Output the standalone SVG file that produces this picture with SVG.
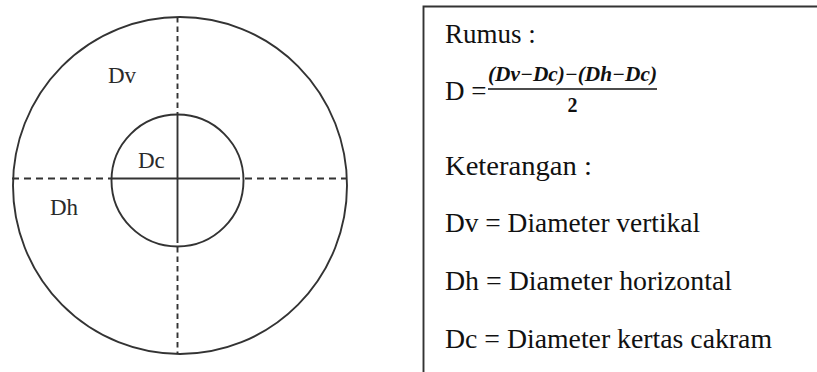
<svg xmlns="http://www.w3.org/2000/svg" width="817" height="372" viewBox="0 0 817 372">
<style>
.ln{fill:none;stroke:#333;stroke-width:1.9}
.dh{stroke-dasharray:7 5}
.dv{stroke-dasharray:5.5 4}
.lbl{font-family:"Liberation Serif","Times New Roman",serif;font-size:23px;fill:#2a2a2a}
.txt{font-family:"Liberation Serif","DejaVu Serif",serif;font-size:27px;fill:#111}
.math{font-family:"Liberation Serif","DejaVu Serif",serif;font-size:20px;font-weight:bold;fill:#111}
</style>
<rect width="817" height="372" fill="#fff"/>
<g id="disc">
<ellipse class="ln" cx="180" cy="185.5" rx="167" ry="168.5"/>
<circle class="ln" cx="177.5" cy="180.5" r="66"/>
</g>
<g id="lines">
<line class="ln dh" x1="12" y1="178.5" x2="110" y2="178.5"/>
<line class="ln" x1="110" y1="178.5" x2="240" y2="178.5"/>
<line class="ln dh" x1="245" y1="178.5" x2="347" y2="178.5"/>
<line class="ln dv" x1="177.5" y1="17" x2="177.5" y2="114"/>
<line class="ln" x1="177.5" y1="114" x2="177.5" y2="243"/>
<line class="ln dv" x1="177.5" y1="247" x2="177.5" y2="354"/>
</g>
<g id="label-dv"><text class="lbl" x="108" y="83">Dv</text></g>
<g id="label-dc"><text class="lbl" x="138" y="168">Dc</text></g>
<g id="label-dh"><text class="lbl" x="50" y="215">Dh</text></g>
<g id="legend">
<path class="ln" d="M423.5 372 V6.5 H817"/>
<text class="txt" x="445" y="43">Rumus :</text>
<text class="txt" x="445" y="100">D =</text>
<text class="math" x="488" y="81" font-style="italic" textLength="169" lengthAdjust="spacingAndGlyphs">(Dv−Dc)−(Dh−Dc)</text>
<line x1="488" y1="89" x2="657" y2="89" stroke="#111" stroke-width="1.6"/>
<text class="math" x="572.5" y="112" text-anchor="middle">2</text>
<text class="txt" x="445" y="175" textLength="147" lengthAdjust="spacingAndGlyphs">Keterangan  :</text>
<text class="txt" x="445" y="232" textLength="255" lengthAdjust="spacingAndGlyphs">Dv = Diameter vertikal</text>
<text class="txt" x="445" y="290" textLength="287" lengthAdjust="spacingAndGlyphs">Dh = Diameter horizontal</text>
<text class="txt" x="445" y="348" textLength="327" lengthAdjust="spacingAndGlyphs">Dc = Diameter kertas cakram</text>
</g>
</svg>
